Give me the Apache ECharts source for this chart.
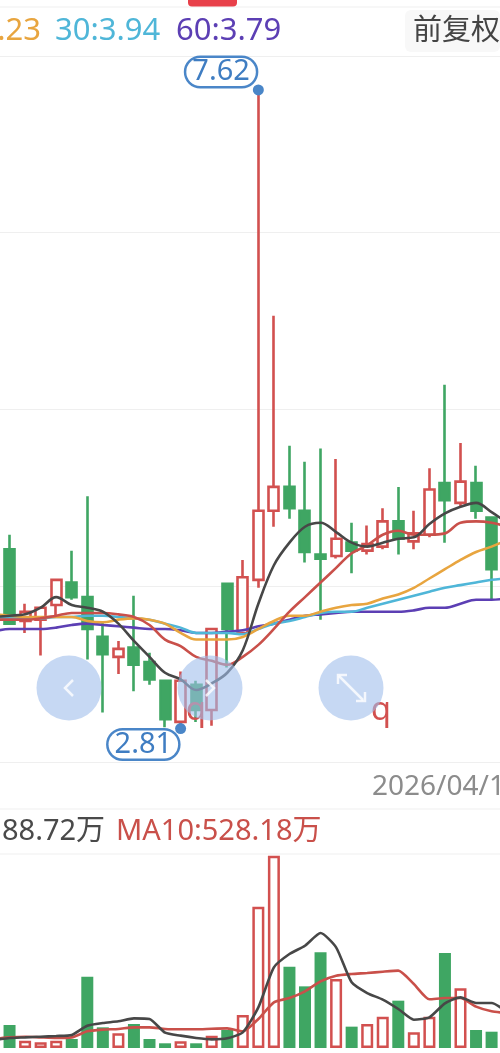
<!DOCTYPE html>
<html><head><meta charset="utf-8">
<style>html,body{margin:0;padding:0;background:#fff;overflow:hidden}#c{width:500px;height:1053px}</style>
<script src="https://cdn.jsdelivr.net/npm/echarts@6/dist/echarts.min.js"></script>
</head><body><div id="c"></div>
<script>
const categories = ['-1','0','1','2','3','4','5','6','7','8','9','10','11','12','13','14','15','16','17','18','19','20','21','22','23','24','25','26','27','28','29','30','31','32'];
// open, close, low, high
const candles = [
[3.63,4.14,3.59,4.14],[4.16,3.60,3.59,4.27],[3.62,3.69,3.53,3.75],[3.63,3.72,3.36,3.73],[3.74,3.93,3.66,3.93],
[3.91,3.80,3.78,4.15],[3.80,3.56,3.33,4.56],[3.50,3.37,2.93,3.61],[3.35,3.41,3.22,3.47],[3.42,3.29,3.09,3.81],
[3.31,3.18,3.14,3.38],[3.17,2.88,2.82,3.17],[2.86,3.17,2.81,3.24],[3.14,2.95,2.86,3.17],[2.95,3.56,2.83,3.57],
[3.90,3.56,3.27,3.91],[3.53,3.95,3.53,4.08],[3.93,4.45,3.87,7.62],[4.45,4.63,4.33,5.92],[4.63,4.47,4.39,4.94],
[4.45,4.14,4.06,4.82],[4.12,4.09,3.63,4.92],[4.11,4.24,4.09,4.84],[4.21,4.15,3.98,4.36],[4.15,4.20,4.12,4.34],
[4.18,4.37,4.16,4.47],[4.37,4.24,4.12,4.63],[4.22,4.28,4.16,4.45],[4.27,4.61,4.25,4.77],[4.66,4.53,4.21,5.40],
[4.51,4.67,4.48,4.96],[4.66,4.45,4.39,4.79],[4.40,4.01,3.78,4.40],'-'];
const ma5 = [3.65,3.66,3.67,3.72,3.80,3.74,3.72,3.69,3.60,3.47,3.35,3.23,3.18,3.10,3.15,3.23,3.40,3.75,4.04,4.21,4.33,4.36,4.29,4.21,4.18,4.21,4.24,4.25,4.35,4.43,4.48,4.51,4.44,4.36];
const ma10 = [3.63,3.63,3.63,3.64,3.66,3.68,3.68,3.68,3.67,3.65,3.59,3.48,3.43,3.35,3.32,3.29,3.35,3.44,3.56,3.69,3.80,3.91,4.02,4.13,4.19,4.27,4.30,4.27,4.27,4.28,4.36,4.37,4.36,4.33];
const ma20 = [3.67,3.66,3.65,3.65,3.65,3.65,3.62,3.61,3.63,3.64,3.63,3.60,3.53,3.48,3.48,3.48,3.50,3.56,3.62,3.66,3.66,3.69,3.72,3.74,3.75,3.79,3.82,3.87,3.94,4.01,4.08,4.14,4.18,4.23];
const ma30 = [3.65,3.64,3.64,3.64,3.65,3.65,3.66,3.66,3.65,3.64,3.63,3.60,3.57,3.53,3.53,3.53,3.52,3.56,3.60,3.62,3.65,3.68,3.69,3.69,3.72,3.75,3.78,3.81,3.84,3.87,3.89,3.91,3.93,3.94];
const ma60 = [3.54,3.56,3.56,3.56,3.57,3.59,3.60,3.59,3.58,3.57,3.56,3.56,3.55,3.53,3.53,3.54,3.55,3.58,3.60,3.63,3.66,3.67,3.68,3.69,3.69,3.69,3.69,3.70,3.72,3.72,3.75,3.78,3.78,3.79];
const volumes = [20,337,107,83,107,132,1046,303,215,352,132,69,98,69,180,264,484,2070,2820,1190,904,1403,1011,313,352,459,694,230,459,1393,875,264,239,'-'];
const volumeUp = [1,0,1,1,1,0,0,0,1,0,0,0,1,0,1,0,1,1,1,0,0,0,1,0,1,1,0,1,1,0,1,0,0,0];
const volMa5 = [117,147,156,166,176,191,327,367,391,435,425,225,181,147,127,142,230,596,1183,1378,1500,1686,1476,963,806,709,572,415,450,655,743,660,660,523];
const volMa10 = [132,156,166,156,147,156,244,269,279,303,303,279,274,274,283,288,244,425,670,733,831,977,1060,1085,1100,1119,1134,938,714,733,733,606,538,513];
const highMark = ['16', 7.62];
const lowMark = ['11', 2.81];
const gridRows = [0,1,2,3,4];

const RED='#d2504f', GREEN='#3fa663', DARK='#474747', ORANGE='#e8a53f', BLUE='#4fb6d8', PURPLE='#5c3fb4', PILL='#4a86c8', MAROON='#c9504a';
const UI="'Noto Sans','Noto Sans CJK SC',sans-serif";
function maLine(data,color){return {type:'line',data,smooth:0.35,symbol:'none',silent:true,xAxisIndex:0,yAxisIndex:0,z:5,lineStyle:{color,width:2.6}};}
function volLine(data,color){return {type:'line',data,smooth:0.2,symbol:'none',silent:true,xAxisIndex:1,yAxisIndex:2,z:5,lineStyle:{color,width:2.6}};}
function pill(point,offset){return {type:'scatter',data:[point],symbol:'circle',symbolSize:11,xAxisIndex:0,yAxisIndex:0,z:8,itemStyle:{color:PILL,opacity:1},
  label:{show:true,position:'left',distance:0,offset,formatter:p=>p.value[1].toFixed(2),color:'#3f7dc2',fontFamily:UI,fontSize:29,lineHeight:28,borderColor:PILL,borderWidth:2.5,borderRadius:15,padding:[0,6,0,6],backgroundColor:'#fff'}};}
function txt(x,y,text,fill,size,align){return {type:'text',z:100,style:{x,y,text,fill,font:`${size||29}px ${UI}`,textAlign:align||'left',textVerticalAlign:'middle'}};}
function hline(y){return {type:'line',z:1,shape:{x1:0,y1:y,x2:500,y2:y},style:{stroke:'#efefef',lineWidth:1}};}
function circle(cx){return {type:'circle',z:110,shape:{cx,cy:688,r:32.5},style:{fill:'rgba(160,190,235,0.6)'}};}
function stroke(points){return {type:'polyline',z:111,shape:{points},style:{stroke:'rgba(255,255,255,0.8)',lineWidth:2.5,fill:null}};}

const chart=echarts.init(document.getElementById('c'),null,{renderer:'canvas'});
chart.setOption({
  animation:false,backgroundColor:'#fff',
  grid:[{left:-13.78,top:56,width:528.7,height:706.5,outerBoundsMode:'none'},{left:-13.78,top:855,width:528.7,height:193,outerBoundsMode:'none'}],
  xAxis:[
    {type:'category',gridIndex:0,data:categories,boundaryGap:true,axisLine:{show:false},axisTick:{show:false},axisLabel:{show:false},splitLine:{show:false}},
    {type:'category',gridIndex:1,data:categories,boundaryGap:true,axisLine:{show:false},axisTick:{show:false},axisLabel:{show:false},splitLine:{show:false}}
  ],
  yAxis:[
    {type:'value',gridIndex:0,min:2.554,max:7.876,scale:true,axisLine:{show:false},axisTick:{show:false},axisLabel:{show:false},splitLine:{show:false}},
    {type:'value',gridIndex:0,min:gridRows[0],max:gridRows[4],interval:1,axisLine:{show:false},axisTick:{show:false},axisLabel:{show:false},splitLine:{show:true,lineStyle:{color:'#efefef',width:1}}},
    {type:'value',gridIndex:1,min:0,max:2830,axisLine:{show:false},axisTick:{show:false},axisLabel:{show:false},splitLine:{show:false}}
  ],
  series:[
    {type:'candlestick',data:candles,xAxisIndex:0,yAxisIndex:0,barWidth:10.5,z:3,itemStyle:{color:'#fff',color0:GREEN,borderColor:RED,borderColor0:GREEN,borderWidth:2.6}},
    maLine(ma60,PURPLE),maLine(ma30,BLUE),maLine(ma20,ORANGE),maLine(ma10,MAROON),maLine(ma5,DARK),
    pill(highMark,[3,-18]),pill(lowMark,[3,16]),
    {type:'bar',xAxisIndex:1,yAxisIndex:2,barWidth:12,z:3,data:volumes.map((v,i)=>({value:v,itemStyle:volumeUp[i]?{color:'#fff',borderColor:RED,borderWidth:2.5}:{color:GREEN,borderWidth:0}}))},
    volLine(volMa10,MAROON),volLine(volMa5,DARK)
  ],
  graphic:[
    hline(7),hline(809),hline(854),
    {type:'rect',z:50,shape:{x:188,y:0,width:49,height:6.5,r:[0,0,4,4]},style:{fill:'#e8404a'}},
    {type:'rect',z:50,shape:{x:405,y:10,width:95,height:42,r:6},style:{fill:'#f8f8f8'}},
    txt(41,31,'.23',ORANGE,31,'right'),
    txt(55,31,'30:3.94',BLUE,31),
    txt(176,31,'60:3.79',PURPLE,31),
    txt(413,32,'前复权','#444',29),
    txt(372,787,'2026/04/1','#8c8c8c',28),
    txt(2,832,'88.72万','#4a4a4a',29),
    txt(116,832,'MA10:528.18万',MAROON,29),
    txt(381,711,'q',RED,33,'center'),
    txt(196,711,'q',RED,33,'center'),
    circle(69),circle(210),circle(351),
    stroke([[73,680],[65,688],[73,696]]),
    stroke([[206,680],[214,688],[206,696]]),
    stroke([[338,684],[338,675],[347,675]]),
    stroke([[339,676],[363,700]]),
    stroke([[365,692],[365,701],[356,701]])
  ]
});
</script></body></html>
